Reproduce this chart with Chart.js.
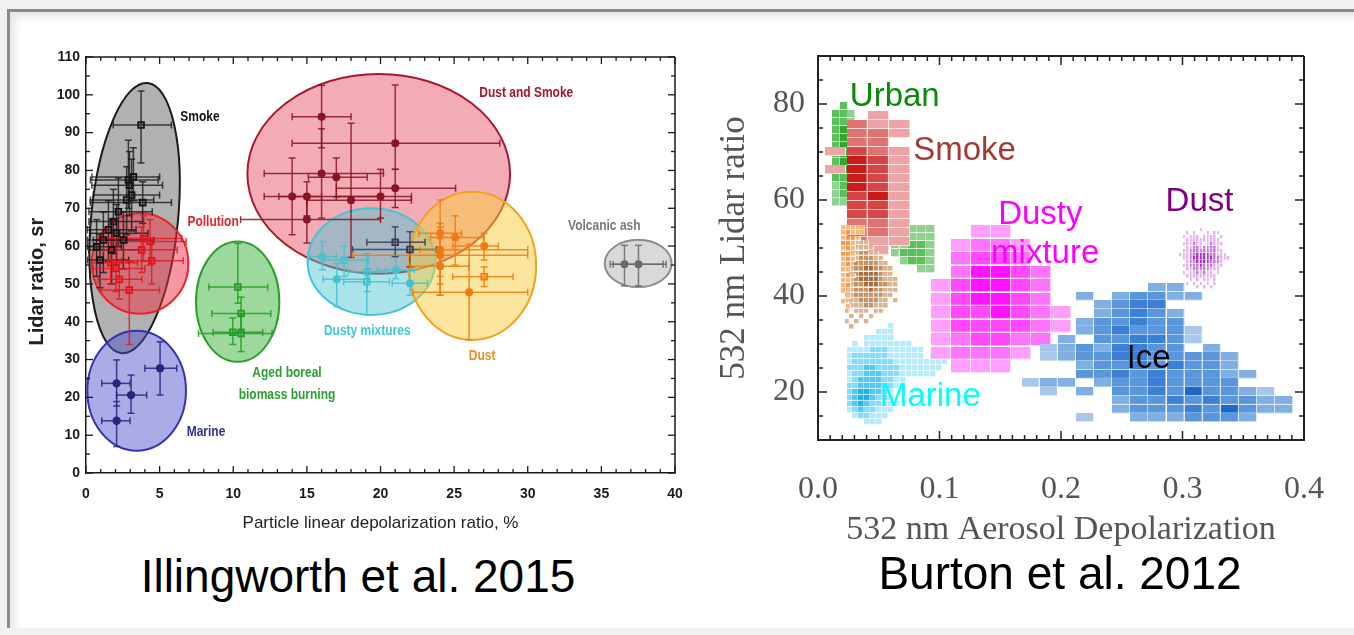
<!DOCTYPE html>
<html>
<head>
<meta charset="utf-8">
<title>Lidar ratio vs depolarization: aerosol types</title>
<script src="https://cdn.jsdelivr.net/npm/chart.js@4.4.1/dist/chart.umd.min.js"></script>
<style>
  html, body { margin: 0; padding: 0; }
  body { width: 1354px; height: 635px; overflow: hidden; background: #f1f1f1; position: relative; font-family: 'Liberation Sans', Arial, sans-serif; }
  #frame { position: absolute; left: 7px; top: 9px; width: 1360px; height: 616px; background: #fff;
           border-left: 3px solid #8b8b8b; border-top: 3px solid #8b8b8b; box-shadow: inset 5px 5px 9px rgba(0,0,0,0.10); }
  canvas { position: absolute; top: 0; }
  #left { left: 0; }
  #right { left: 700px; }
  .caption { position: absolute; width: 600px; text-align: center; font-size: 46px; line-height: 46px; color: #000; white-space: nowrap; }
</style>
</head>
<body>
<div id="frame"></div>
<canvas id="left" width="700" height="545"></canvas>
<canvas id="right" width="654" height="560"></canvas>
<div class="caption" style="left:58px; top:553px;">Illingworth et al. 2015</div>
<div class="caption" style="left:760px; top:550px;">Burton et al. 2012</div>
<script>
// ===================== Illingworth et al. 2015 =====================
const leftXTicks = [0, 5, 10, 15, 20, 25, 30, 35, 40];
const leftYTicks = [0, 10, 20, 30, 40, 50, 60, 70, 80, 90, 100, 110];

// measurements: depolarization (%), lidar ratio (sr) and their error ranges
const smoke = [
  {x: 3.74, y: 92.0, xMin: 1.85, xMax: 5.8, yMin: 82, yMax: 101},
  {x: 3.22, y: 78.3, xMin: 0.4, xMax: 5.0, yMin: 72, yMax: 86},
  {x: 2.88, y: 77.5, xMin: 0.3, xMax: 4.9, yMin: 70, yMax: 88},
  {x: 2.95, y: 76.1, xMin: 0.4, xMax: 5.2, yMin: 68, yMax: 85},
  {x: 3.10, y: 73.5, xMin: 0.5, xMax: 5.0, yMin: 64, yMax: 83},
  {x: 2.76, y: 72.2, xMin: 0.3, xMax: 4.6, yMin: 63, yMax: 81},
  {x: 3.85, y: 71.5, xMin: 0.3, xMax: 5.8, yMin: 66, yMax: 77},
  {x: 2.20, y: 69.1, xMin: 0.2, xMax: 4.5, yMin: 60, yMax: 78},
  {x: 1.86, y: 66.5, xMin: 0.2, xMax: 3.9, yMin: 58, yMax: 75},
  {x: 1.52, y: 64.3, xMin: 0.1, xMax: 3.4, yMin: 56, yMax: 72},
  {x: 2.08, y: 63.4, xMin: 0.3, xMax: 4.2, yMin: 55, yMax: 71},
  {x: 1.18, y: 61.6, xMin: 0.1, xMax: 2.8, yMin: 53, yMax: 69},
  {x: 2.54, y: 61.6, xMin: 0.5, xMax: 4.6, yMin: 54, yMax: 69},
  {x: 0.72, y: 59.8, xMin: 0.1, xMax: 2.4, yMin: 52, yMax: 67},
  {x: 1.74, y: 59.0, xMin: 0.2, xMax: 3.6, yMin: 50, yMax: 67},
  {x: 0.95, y: 56.3, xMin: 0.1, xMax: 2.9, yMin: 49, yMax: 63}
];
const pollution = [
  {x: 3.90, y: 62.0, xMin: 1.0, xMax: 6.5, yMin: 56, yMax: 68},
  {x: 4.35, y: 61.2, xMin: 2.0, xMax: 6.8, yMin: 55, yMax: 67},
  {x: 3.78, y: 59.0, xMin: 1.2, xMax: 6.2, yMin: 53, yMax: 65},
  {x: 4.46, y: 56.1, xMin: 2.4, xMax: 6.6, yMin: 50, yMax: 62},
  {x: 1.68, y: 55.6, xMin: 0.4, xMax: 3.5, yMin: 50, yMax: 61},
  {x: 2.04, y: 54.1, xMin: 0.5, xMax: 4.0, yMin: 48, yMax: 60},
  {x: 2.26, y: 51.2, xMin: 0.8, xMax: 3.8, yMin: 46, yMax: 56},
  {x: 2.94, y: 48.4, xMin: 1.0, xMax: 5.0, yMin: 34, yMax: 56}
];
const dustAndSmoke = [
  {x: 16.0, y: 94.2, xMin: 14.0, xMax: 18.0, yMin: 86.0, yMax: 102.5},
  {x: 21.0, y: 87.2, xMin: 14.0, xMax: 28.1, yMin: 80.3, yMax: 102.6},
  {x: 16.0, y: 79.2, xMin: 12.1, xMax: 20.2, yMin: 67.4, yMax: 91.0},
  {x: 17.0, y: 78.2, xMin: 15.1, xMax: 19.1, yMin: 73.0, yMax: 83.3},
  {x: 21.0, y: 75.3, xMin: 17.0, xMax: 25.1, yMin: 70.2, yMax: 80.3},
  {x: 14.0, y: 73.1, xMin: 12.1, xMax: 16.0, yMin: 63.0, yMax: 83.3},
  {x: 15.0, y: 73.1, xMin: 13.1, xMax: 20.0, yMin: 68.0, yMax: 77.0},
  {x: 18.0, y: 72.1, xMin: 15.0, xMax: 22.1, yMin: 57.0, yMax: 92.5},
  {x: 20.0, y: 73.1, xMin: 17.0, xMax: 22.1, yMin: 67.4, yMax: 80.3},
  {x: 15.0, y: 67.0, xMin: 10.5, xMax: 20.0, yMin: 60.8, yMax: 73.0}
];
const dustyMixCircles = [
  {x: 16.05, y: 57.2, xMin: 15.2, xMax: 17.0, yMin: 53.7, yMax: 61.2},
  {x: 17.03, y: 51.2, xMin: 16.1, xMax: 19.2, yMin: 44.0, yMax: 55.4},
  {x: 21.04, y: 53.7, xMin: 19.8, xMax: 22.3, yMin: 51.4, yMax: 57.6},
  {x: 22.0, y: 50.2, xMin: 20.8, xMax: 23.2, yMin: 47.0, yMax: 53.5}
];
const dustyMixSquares = [
  {x: 17.53, y: 56.3, xMin: 16.1, xMax: 19.2, yMin: 52.0, yMax: 60.0},
  {x: 19.07, y: 50.6, xMin: 17.5, xMax: 20.6, yMin: 41.8, yMax: 57.6},
  {x: 19.10, y: 53.2, xMin: 17.8, xMax: 20.4, yMin: 48.0, yMax: 58.0}
];
const dustyMixDark = [
  {x: 21.0, y: 61.0, xMin: 19.07, xMax: 23.03, yMin: 57.2, yMax: 65.1},
  {x: 22.0, y: 59.1, xMin: 18.1, xMax: 23.8, yMin: 54.5, yMax: 63.8}
];
const dustCircles = [
  {x: 24.05, y: 63.4, xMin: 22.6, xMax: 25.5, yMin: 47.0, yMax: 72.2},
  {x: 25.07, y: 62.3, xMin: 23.4, xMax: 27.0, yMin: 55.0, yMax: 68.0},
  {x: 24.05, y: 59.0, xMin: 22.7, xMax: 30.0, yMin: 52.0, yMax: 66.0},
  {x: 24.05, y: 57.6, xMin: 18.1, xMax: 30.0, yMin: 50.0, yMax: 65.0},
  {x: 27.04, y: 60.0, xMin: 24.9, xMax: 28.0, yMin: 56.3, yMax: 63.4},
  {x: 24.05, y: 54.7, xMin: 22.0, xMax: 26.0, yMin: 47.0, yMax: 62.0},
  {x: 26.02, y: 47.8, xMin: 22.2, xMax: 30.0, yMin: 35.2, yMax: 60.5}
];
const dustSquares = [
  {x: 27.04, y: 51.9, xMin: 24.9, xMax: 29.0, yMin: 49.3, yMax: 54.5}
];
const agedBoreal = [
  {x: 10.31, y: 49.2, xMin: 8.34, xMax: 12.34, yMin: 44.9, yMax: 60.7},
  {x: 10.53, y: 42.2, xMin: 8.54, xMax: 12.55, yMin: 38.0, yMax: 46.5},
  {x: 9.97, y: 37.2, xMin: 8.63, xMax: 12.0, yMin: 34.0, yMax: 41.0},
  {x: 10.53, y: 36.9, xMin: 7.64, xMax: 12.64, yMin: 32.1, yMax: 42.0}
];
const marine = [
  {x: 2.08, y: 23.7, xMin: 1.07, xMax: 2.99, yMin: 17.7, yMax: 29.9},
  {x: 3.06, y: 20.6, xMin: 2.08, xMax: 4.12, yMin: 15.8, yMax: 25.9},
  {x: 5.03, y: 27.7, xMin: 4.0, xMax: 6.16, yMin: 20.6, yMax: 34.7},
  {x: 2.08, y: 13.8, xMin: 1.07, xMax: 2.99, yMin: 7.0, yMax: 18.9}
];
const volcanicAsh = [
  {x: 36.57, y: 55.2, xMin: 35.6, xMax: 39.4, yMin: 49.5, yMax: 60.2},
  {x: 37.52, y: 55.2, xMin: 35.8, xMax: 39.2, yMin: 49.5, yMax: 60.2}
];

// aerosol-type regions: centre and semi-axes in data units, tilt in degrees
const leftRegions = [
  {type: 'smoke',      cx: 3.30,  cy: 67.4, rx: 2.95, ry: 35.9, tilt: 5.5},
  {type: 'marine',     cx: 3.44,  cy: 21.75, rx: 3.35, ry: 15.85, tilt: 0},
  {type: 'pollution',  cx: 3.67,  cy: 55.4, rx: 3.28, ry: 13.3, tilt: 0},
  {type: 'aged',       cx: 10.30, cy: 45.3, rx: 2.83, ry: 15.9, tilt: 0},
  {type: 'dustSmoke',  cx: 19.88, cy: 79.1, rx: 8.92, ry: 26.4, tilt: 0},
  {type: 'dustyMix',   cx: 19.38, cy: 55.9, rx: 4.33, ry: 14.1, tilt: 0},
  {type: 'dust',       cx: 26.23, cy: 54.8, rx: 4.34, ry: 19.6, tilt: 0},
  {type: 'volcanic',   cx: 37.50, cy: 55.4, rx: 2.27, ry: 6.25, tilt: 0}
];
const leftLabels = [
  {type: 'smoke', text: 'Smoke', x: 7.74, y: 94.1},
  {type: 'pollution', text: 'Pollution', x: 8.63, y: 66.4},
  {type: 'dustSmoke', text: 'Dust and Smoke', x: 29.9, y: 100.5},
  {type: 'volcanic', text: 'Volcanic ash', x: 35.2, y: 65.3},
  {type: 'dustyMix', text: 'Dusty mixtures', x: 19.1, y: 37.5},
  {type: 'dust', text: 'Dust', x: 26.9, y: 30.9},
  {type: 'aged', text: 'Aged boreal\nbiomass burning', x: 13.65, y: 23.5},
  {type: 'marine', text: 'Marine', x: 8.15, y: 10.8}
];

// ===================== Burton et al. 2012 =====================
const rightXTicks = [0, 0.1, 0.2, 0.3, 0.4];
const rightYTicks = [20, 40, 60, 80];

// 2-D histograms: bin edges (left, top) and bin size in data units,
// rows listed top to bottom, digits give the frequency class (0 = empty bin)
const urbanBins = {x0: 0.012, dx: 0.0062, yTop: 80.4, dy: 1.67};
const urbanCounts = ["020","221","221","231","231","231","232","232","232","221","121","121","110"];
const urbanLowBins = {x0: 0.0599, dx: 0.0073, yTop: 54.8, dy: 1.67};
const urbanLowCounts = ["00111","11111","11221","12221","01221","00011"];
const smokeBins = {x0: 0.0057, dx: 0.0176, yTop: 78.54, dy: 1.875};
const smokeCounts = ["0010","0211","0221","0220","1321","0431","1431","0431","0431","0341","0331","0331","0221","0221","0211","0010"];
const orangeBins = {x0: 0.0190, dx: 0.0040, yTop: 54.8, dy: 1.1};
const orangeCounts = ["111110","121110","122100","221000","121000","221000","121000","120000","110000","121000","110000","120000","110000","010000","100000","010000"];
const brownBins = {x0: 0.0219, dx: 0.0040, yTop: 51.7, dy: 1.1};
const brownCounts = ["00111000000","01111100000","01122110000","11122211000","11222221100","11223322110","01233332110","11233332111","11223332211","01222322111","11222222110","11122221101","01112211100","10111011000","01010100000","10101000000","01000000000"];
const marineBins = {x0: 0.0235, dx: 0.0049, yTop: 34.4, dy: 1.25};
const marineCounts = ["00000001000000000","00000111000000000","00011111000000000","01011111111000000","11112221111110000","12222221111110111","12222222111111111","22233222211111110","12233322211111100","12333322110000000","22333322100000000","23443321000000000","23443221000000000","23432211100000000","12322111000000000","01221110000000000","00011100000000000"];
const dustyBins = {x0: 0.0929, dx: 0.0165, yTop: 54.8, dy: 2.81};
const dustyCounts = ["0011000","0122100","0233200","0244320","1344320","1344320","1334321","1333321","1233220","1222100","0111000"];
const iceBins = {x0: 0.1676, dx: 0.0149, yTop: 42.7, dy: 1.81};
const iceCounts = ["000000022000000","000202332200000","000023440000000","000023432000000","000233433000000","000234333100000","002033443100000","012324433020000","012334433332000","000233434332000","000334343332200","122023343333000","010203343533210","000002334343322","000002333435322","000100222333200"];
const dustBins = {x0: 0.2972, dx: 0.0028, yTop: 54.2, dy: 0.75};
const dustCounts = ["000000100000000","001010001011000","010111011110100","001111111111000","011121101211100","001122122221000","011222222221100","111223333221110","011233333322111","001223333222100","011222322211100","001122222111000","010112121101000","001111111110000","000101011010000","001010101010000","000001010100000"];

const rightLabels = [
  {type: 'urban', text: 'Urban', x: 0.0632, y: 81.5},
  {type: 'smoke', text: 'Smoke', x: 0.1206, y: 70.3},
  {type: 'dusty', text: 'Dusty', x: 0.183, y: 56.8},
  {type: 'dusty', text: 'mixture', x: 0.187, y: 48.8},
  {type: 'dust', text: 'Dust', x: 0.314, y: 59.5},
  {type: 'ice', text: 'Ice', x: 0.272, y: 26.8},
  {type: 'marine', text: 'Marine', x: 0.0925, y: 19.0}
];

// ===================== styles =====================
const SANS = "'Liberation Sans', Arial, sans-serif";
const SERIF = "'Liberation Serif', 'Times New Roman', serif";

const regionStyle = {
  smoke:     {fill: 'rgba(100,100,100,0.50)', stroke: '#1b1b1b'},
  marine:    {fill: 'rgba(80,80,200,0.48)',   stroke: '#3434b0'},
  pollution: {fill: 'rgba(235,50,68,0.50)',   stroke: '#ee2229'},
  aged:      {fill: 'rgba(60,180,60,0.50)',   stroke: '#2e9e2e'},
  dustSmoke: {fill: 'rgba(228,72,94,0.45)',   stroke: '#a51a2e'},
  dustyMix:  {fill: 'rgba(80,196,212,0.48)',  stroke: '#45c3d6'},
  dust:      {fill: 'rgba(250,206,60,0.50)',  stroke: '#f5a11c'},
  volcanic:  {fill: 'rgba(180,180,180,0.50)', stroke: '#8c8c8c'}
};
const leftLabelColor = {
  smoke: '#111111', pollution: '#e8212b', dustSmoke: '#a3172a', volcanic: '#7a7a7a',
  dustyMix: '#3ec5dc', dust: '#f08c1e', aged: '#2e9e33', marine: '#2f2f9a'
};
const rightLabelColor = {
  urban: '#0a8a0a', smoke: '#a23a33', dusty: '#ff00ff', dust: '#800080', ice: '#000000', marine: '#00ffff'
};
const shades = {
  urban:  ['#8fd18f', '#5cbf5c', '#2fa82f'],
  smoke:  ['#eea4a4', '#e27272', '#d84444', '#cc1a1a'],
  orange: ['#f9b77e', '#f59647'],
  brown:  ['#d9b68f', '#c49162', '#a86b3a'],
  marine: ['#b5ecfd', '#86dbf9', '#4fc8f4', '#1fb3ee'],
  dusty:  ['#ff9eff', '#ff74ff', '#ff48ff', '#ff14ff'],
  ice:    ['#a9c7ec', '#80afe4', '#5a96dc', '#3b80d4', '#1a68c8'],
  dust:   ['#e6b2f0', '#cb72e0', '#a630c8']
};

// ===================== plugins =====================
function hline(ctx, x1, x2, y) { ctx.beginPath(); ctx.moveTo(x1, y); ctx.lineTo(x2, y); ctx.stroke(); }
function vline(ctx, x, y1, y2) { ctx.beginPath(); ctx.moveTo(x, y1); ctx.lineTo(x, y2); ctx.stroke(); }

// translucent ellipses outlining each aerosol type
const regions = {
  id: 'regions',
  beforeDatasetsDraw(chart) {
    const {ctx, scales: {x, y}} = chart;
    ctx.save();
    leftRegions.forEach(r => {
      const cx = x.getPixelForValue(r.cx), cy = y.getPixelForValue(r.cy);
      const rx = Math.abs(x.getPixelForValue(r.cx + r.rx) - cx);
      const ry = Math.abs(y.getPixelForValue(r.cy + r.ry) - cy);
      const st = regionStyle[r.type];
      ctx.beginPath();
      ctx.ellipse(cx, cy, rx, ry, r.tilt * Math.PI / 180, 0, 2 * Math.PI);
      ctx.fillStyle = st.fill; ctx.fill();
      ctx.lineWidth = 2; ctx.strokeStyle = st.stroke; ctx.stroke();
    });
    ctx.restore();
  }
};

// error bars with end caps, read from each point's xMin/xMax/yMin/yMax
const errorBars = {
  id: 'errorBars',
  beforeDatasetsDraw(chart) {
    const {ctx, scales: {x, y}} = chart;
    ctx.save();
    ctx.lineWidth = 1.5;
    chart.data.datasets.forEach(ds => {
      if (!ds.errorColor) return;
      ctx.strokeStyle = ds.errorColor;
      ds.data.forEach(p => {
        const px = x.getPixelForValue(p.x), py = y.getPixelForValue(p.y), cap = 3.5;
        const a = x.getPixelForValue(p.xMin), b = x.getPixelForValue(p.xMax);
        hline(ctx, a, b, py); vline(ctx, a, py - cap, py + cap); vline(ctx, b, py - cap, py + cap);
        const c = y.getPixelForValue(p.yMin), d = y.getPixelForValue(p.yMax);
        vline(ctx, px, c, d); hline(ctx, px - cap, px + cap, c); hline(ctx, px - cap, px + cap, d);
      });
    });
    ctx.restore();
  }
};

// text labels placed at data coordinates (optionally condensed horizontally)
function textLayer(id, items, colors, font, lineHeight, squeeze) {
  return {
    id,
    afterDatasetsDraw(chart) {
      const {ctx, scales: {x, y}} = chart;
      ctx.save();
      ctx.font = font; ctx.textAlign = 'center'; ctx.textBaseline = 'middle';
      items.forEach(t => {
        const lines = t.text.split('\n');
        const px = x.getPixelForValue(t.x), py = y.getPixelForValue(t.y);
        ctx.fillStyle = colors[t.type];
        lines.forEach((s, i) => {
          ctx.save();
          ctx.translate(px, py + (i - (lines.length - 1) / 2) * lineHeight);
          ctx.scale(squeeze || 1, 1);
          ctx.fillText(s, 0, 0);
          ctx.restore();
        });
      });
      ctx.restore();
    }
  };
}

// closed frame with inward major/minor tick marks on all four sides
function frameTicks(o) {
  return {
    id: 'frameTicks',
    afterDraw(chart) {
      const {ctx, chartArea: a, scales: {x, y}} = chart;
      ctx.save();
      ctx.strokeStyle = o.color;
      ctx.lineWidth = o.border;
      hline(ctx, a.left, a.right, a.top);
      vline(ctx, a.right, a.top, a.bottom);
      ctx.lineWidth = o.width;
      const isMajor = (v, m) => Math.abs(v / m - Math.round(v / m)) < 1e-6;
      const nx = Math.round((x.max - x.min) / o.xMinor);
      for (let i = 0; i <= nx; i++) {
        const v = x.min + i * o.xMinor, px = x.getPixelForValue(v);
        const len = isMajor(v, o.xMajor) ? o.majorLen : o.minorLen;
        vline(ctx, px, a.bottom, a.bottom - len);
        vline(ctx, px, a.top, a.top + len);
      }
      const ny = Math.round((y.max - y.min) / o.yMinor);
      for (let i = 0; i <= ny; i++) {
        const v = y.min + i * o.yMinor, py = y.getPixelForValue(v);
        const len = isMajor(v, o.yMajor) ? o.majorLen : o.minorLen;
        hline(ctx, a.left, a.left + len, py);
        hline(ctx, a.right, a.right - len, py);
      }
      ctx.restore();
    }
  };
}

// ===================== left chart =====================
function pointSet(data, style, color, radius, filled, errorColor) {
  return {
    data, pointStyle: style, pointRadius: radius,
    pointBackgroundColor: filled ? color : 'rgba(0,0,0,0)',
    pointBorderColor: color, pointBorderWidth: filled ? 0 : 1.9,
    errorColor
  };
}

Chart.defaults.font.family = SANS;

new Chart(document.getElementById('left'), {
  type: 'scatter',
  data: {
    datasets: [
      pointSet(smoke, 'rect', '#151515', 4, false, 'rgba(25,25,25,0.8)'),
      pointSet(pollution, 'rect', '#e3141c', 4, false, 'rgba(227,20,28,0.8)'),
      pointSet(dustAndSmoke, 'circle', '#8a1424', 4, true, 'rgba(138,20,36,0.85)'),
      pointSet(dustyMixCircles, 'circle', '#46c2cf', 4, true, 'rgba(70,194,207,0.85)'),
      pointSet(dustyMixSquares, 'rect', '#46c2cf', 4, false, 'rgba(70,194,207,0.85)'),
      pointSet(dustyMixDark, 'rect', '#3a3a55', 4, false, 'rgba(58,58,85,0.85)'),
      pointSet(dustCircles, 'circle', '#f07a12', 4, true, 'rgba(240,122,18,0.85)'),
      pointSet(dustSquares, 'rect', '#f07a12', 4, false, 'rgba(240,122,18,0.85)'),
      pointSet(agedBoreal, 'rect', '#259d25', 4, false, 'rgba(37,157,37,0.85)'),
      pointSet(marine, 'circle', '#262680', 4.2, true, 'rgba(38,38,128,0.85)'),
      pointSet(volcanicAsh, 'circle', '#6a6a6a', 4, true, 'rgba(106,106,106,0.85)')
    ]
  },
  options: {
    responsive: false, animation: false, devicePixelRatio: 1, events: [],
    layout: {padding: {left: 20, top: 57, right: 25, bottom: 0}},
    plugins: {legend: {display: false}, tooltip: {enabled: false}},
    scales: {
      x: {
        type: 'linear', min: 0, max: 40,
        afterBuildTicks: s => { s.ticks = leftXTicks.map(v => ({value: v})); },
        afterFit: s => { s.height = 72; },
        ticks: {font: {family: SANS, size: 14, weight: 'bold'}, color: '#1a1a1a', padding: 13, maxRotation: 0, autoSkip: false},
        grid: {display: false, drawTicks: false},
        border: {display: true, color: '#1a1a1a', width: 1.5},
        title: {display: true, text: 'Particle linear depolarization ratio, %', font: {family: SANS, size: 17}, color: '#222', padding: {top: 0, bottom: 11}}
      },
      y: {
        type: 'linear', min: 0, max: 110,
        afterBuildTicks: s => { s.ticks = leftYTicks.map(v => ({value: v})); },
        afterFit: s => { s.width = 66; },
        ticks: {font: {family: SANS, size: 14, weight: 'bold'}, color: '#1a1a1a', padding: 6, autoSkip: false},
        grid: {display: false, drawTicks: false},
        border: {display: true, color: '#1a1a1a', width: 1.5},
        title: {display: true, text: 'Lidar ratio, sr      ', font: {family: SANS, size: 20, weight: 'bold'}, color: '#222', padding: {top: 5, bottom: 0}}
      }
    }
  },
  plugins: [
    regions, errorBars,
    textLayer('leftLabels', leftLabels, leftLabelColor, `bold 15px ${SANS}`, 22, 0.8),
    frameTicks({xMajor: 5, xMinor: 1, yMajor: 10, yMinor: 5, majorLen: 7, minorLen: 4, color: '#1a1a1a', width: 1.3, border: 1.5})
  ]
});

// ===================== right chart =====================
function binsToCells(counts, bins) {
  const cells = [];
  counts.forEach((row, r) => {
    [...row].forEach((ch, c) => {
      const k = +ch;
      if (k) cells.push({x: bins.x0 + (c + 0.5) * bins.dx, y: bins.yTop - (r + 0.5) * bins.dy, k});
    });
  });
  return cells;
}

const cellCache = new Map();
function cellStyle(c) {
  if (!c.raw) return 'rect';
  const ds = c.dataset, chart = c.chart;
  const xs = chart.scales.x, ys = chart.scales.y;
  const w = Math.max(2, Math.round(Math.abs(xs.getPixelForValue(ds.bins.dx) - xs.getPixelForValue(0))));
  const h = Math.max(2, Math.round(Math.abs(ys.getPixelForValue(0) - ys.getPixelForValue(ds.bins.dy))));
  const color = ds.shades[c.raw.k - 1];
  const key = `${w}x${h}${color}`;
  if (!cellCache.has(key)) {
    const cv = document.createElement('canvas');
    cv.width = w; cv.height = h;
    const g = cv.getContext('2d');
    g.fillStyle = color; g.fillRect(0, 0, w, h);
    g.fillStyle = 'rgba(255,255,255,0.75)';
    g.fillRect(w - 1, 0, 1, h); g.fillRect(0, h - 1, w, 1);
    cellCache.set(key, cv);
  }
  return cellCache.get(key);
}
function cellSet(counts, bins, palette) {
  return {data: binsToCells(counts, bins), bins, shades: palette, pointStyle: cellStyle, pointRadius: 1, pointBorderWidth: 0, pointHitRadius: 0};
}

new Chart(document.getElementById('right'), {
  type: 'scatter',
  data: {
    datasets: [
      cellSet(dustCounts, dustBins, shades.dust),
      cellSet(iceCounts, iceBins, shades.ice),
      cellSet(dustyCounts, dustyBins, shades.dusty),
      cellSet(marineCounts, marineBins, shades.marine),
      cellSet(orangeCounts, orangeBins, shades.orange),
      cellSet(brownCounts, brownBins, shades.brown),
      cellSet(smokeCounts, smokeBins, shades.smoke),
      cellSet(urbanLowCounts, urbanLowBins, shades.urban),
      cellSet(urbanCounts, urbanBins, shades.urban)
    ]
  },
  options: {
    responsive: false, animation: false, devicePixelRatio: 1, events: [],
    layout: {padding: {left: 10, top: 56, right: 42, bottom: 0}},
    plugins: {legend: {display: false}, tooltip: {enabled: false}},
    scales: {
      x: {
        type: 'linear', min: 0, max: 0.4,
        afterBuildTicks: s => { s.ticks = rightXTicks.map(v => ({value: v})); },
        afterFit: s => { s.height = 120; },
        ticks: {callback: v => v.toFixed(1), font: {family: SERIF, size: 32}, color: '#555', padding: 30, maxRotation: 0, autoSkip: false},
        grid: {display: false, drawTicks: false},
        border: {display: true, color: '#222', width: 2},
        title: {display: true, text: '532 nm Aerosol Depolarization', font: {family: SERIF, size: 34}, color: '#555', padding: {top: 0, bottom: 10}}
      },
      y: {
        type: 'linear', min: 10, max: 90,
        afterBuildTicks: s => { s.ticks = rightYTicks.map(v => ({value: v})); },
        afterFit: s => { s.width = 108; },
        ticks: {font: {family: SERIF, size: 32}, color: '#555', padding: 13, autoSkip: false},
        grid: {display: false, drawTicks: false},
        border: {display: true, color: '#222', width: 2},
        title: {display: true, text: '532 nm Lidar ratio', font: {family: SERIF, size: 35}, color: '#555', padding: {top: 4, bottom: 0}}
      }
    }
  },
  plugins: [
    textLayer('rightLabels', rightLabels, rightLabelColor, `33px ${SANS}`, 40, 1),
    frameTicks({xMajor: 0.1, xMinor: 0.01, yMajor: 20, yMinor: 5, majorLen: 9, minorLen: 5, color: '#222', width: 1.5, border: 2})
  ]
});
</script>
</body>
</html>
